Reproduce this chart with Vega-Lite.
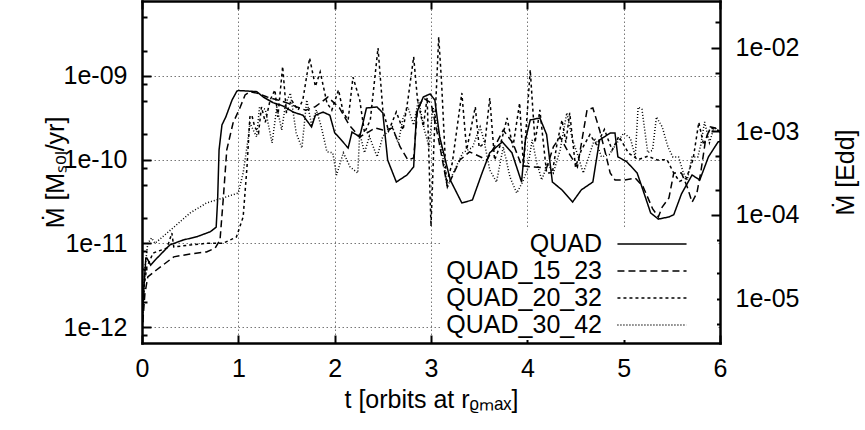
{
  "$schema": "https://vega.github.io/schema/vega-lite/v6.json",
  "width": 578,
  "height": 342,
  "autosize": {"type": "none"},
  "padding": {"left": 142, "top": 1, "right": 145, "bottom": 87},
  "background": "white",
  "config": {
    "view": {"stroke": null},
    "font": "Liberation Sans",
    "axis": {
      "labelFont": "Liberation Sans", "titleFont": "Liberation Sans",
      "labelFontSize": 25, "titleFontSize": 25, "labelColor": "black", "titleColor": "black",
      "titleFontWeight": "normal", "domainColor": "black", "domainWidth": 2.5, "domainCap": "square",
      "tickColor": "black", "tickWidth": 2, "gridColor": "#777", "gridDash": [1.5, 2.5], "gridWidth": 1,
      "labelOverlap": false, "labelFlush": false
    }
  },
  "datasets": {
    "rows": [
      {"series":"QUAD","t":0,"mdot":9e-13},{"series":"QUAD","t":0.02,"mdot":3e-12},{"series":"QUAD","t":0.04,"mdot":6.7e-12},{"series":"QUAD","t":0.05,"mdot":6.7e-12},{"series":"QUAD","t":0.09,"mdot":5.5e-12},{"series":"QUAD","t":0.135,"mdot":6.3e-12},{"series":"QUAD","t":0.29,"mdot":9.6e-12},{"series":"QUAD","t":0.43,"mdot":1.1e-11},{"series":"QUAD","t":0.57,"mdot":1.2e-11},{"series":"QUAD","t":0.71,"mdot":1.38e-11},{"series":"QUAD","t":0.77,"mdot":1.56e-11},{"series":"QUAD","t":0.785,"mdot":3.3e-11},{"series":"QUAD","t":0.8,"mdot":1.31e-10},{"series":"QUAD","t":0.83,"mdot":2.6e-10},{"series":"QUAD","t":0.87,"mdot":3.24e-10},{"series":"QUAD","t":0.935,"mdot":5.17e-10},{"series":"QUAD","t":0.985,"mdot":6.6e-10},{"series":"QUAD","t":1.0,"mdot":6.7e-10},{"series":"QUAD","t":1.1,"mdot":6.6e-10},{"series":"QUAD","t":1.19,"mdot":6.5e-10},{"series":"QUAD","t":1.26,"mdot":5.6e-10},{"series":"QUAD","t":1.36,"mdot":4.8e-10},{"series":"QUAD","t":1.46,"mdot":4.4e-10},{"series":"QUAD","t":1.57,"mdot":3.7e-10},{"series":"QUAD","t":1.67,"mdot":3.4e-10},{"series":"QUAD","t":1.76,"mdot":2.46e-10},{"series":"QUAD","t":1.8,"mdot":3.4e-10},{"series":"QUAD","t":1.88,"mdot":3.7e-10},{"series":"QUAD","t":1.95,"mdot":3.4e-10},{"series":"QUAD","t":2.0,"mdot":2.1e-10},{"series":"QUAD","t":2.04,"mdot":1.87e-10},{"series":"QUAD","t":2.14,"mdot":1.38e-10},{"series":"QUAD","t":2.18,"mdot":2.14e-10},{"series":"QUAD","t":2.26,"mdot":1.87e-10},{"series":"QUAD","t":2.33,"mdot":4.15e-10},{"series":"QUAD","t":2.44,"mdot":4.26e-10},{"series":"QUAD","t":2.5,"mdot":3.62e-10},{"series":"QUAD","t":2.55,"mdot":9.9e-11},{"series":"QUAD","t":2.64,"mdot":5.41e-11},{"series":"QUAD","t":2.75,"mdot":6.56e-11},{"series":"QUAD","t":2.82,"mdot":8.2e-11},{"series":"QUAD","t":2.85,"mdot":3.62e-10},{"series":"QUAD","t":2.92,"mdot":5.61e-10},{"series":"QUAD","t":2.99,"mdot":6.1e-10},{"series":"QUAD","t":3.04,"mdot":5.17e-10},{"series":"QUAD","t":3.09,"mdot":1.87e-10},{"series":"QUAD","t":3.2,"mdot":5.72e-11},{"series":"QUAD","t":3.32,"mdot":3.04e-11},{"series":"QUAD","t":3.43,"mdot":3.3e-11},{"series":"QUAD","t":3.53,"mdot":6.93e-11},{"series":"QUAD","t":3.61,"mdot":1.21e-10},{"series":"QUAD","t":3.74,"mdot":1.63e-10},{"series":"QUAD","t":3.84,"mdot":1.21e-10},{"series":"QUAD","t":3.94,"mdot":5.41e-11},{"series":"QUAD","t":3.98,"mdot":1.72e-10},{"series":"QUAD","t":4.03,"mdot":2.98e-10},{"series":"QUAD","t":4.13,"mdot":3.15e-10},{"series":"QUAD","t":4.2,"mdot":2.0e-10},{"series":"QUAD","t":4.26,"mdot":5.41e-11},{"series":"QUAD","t":4.36,"mdot":4.35e-11},{"series":"QUAD","t":4.47,"mdot":3.12e-11},{"series":"QUAD","t":4.56,"mdot":4.35e-11},{"series":"QUAD","t":4.68,"mdot":5.41e-11},{"series":"QUAD","t":4.75,"mdot":1.72e-10},{"series":"QUAD","t":4.86,"mdot":2.08e-10},{"series":"QUAD","t":4.91,"mdot":2.08e-10},{"series":"QUAD","t":4.94,"mdot":1.08e-10},{"series":"QUAD","t":5.03,"mdot":9.5e-11},{"series":"QUAD","t":5.14,"mdot":6.93e-11},{"series":"QUAD","t":5.2,"mdot":4.35e-11},{"series":"QUAD","t":5.28,"mdot":2.31e-11},{"series":"QUAD","t":5.36,"mdot":1.95e-11},{"series":"QUAD","t":5.47,"mdot":2.07e-11},{"series":"QUAD","t":5.52,"mdot":2.2e-11},{"series":"QUAD","t":5.6,"mdot":3.9e-11},{"series":"QUAD","t":5.71,"mdot":6.56e-11},{"series":"QUAD","t":5.79,"mdot":5.72e-11},{"series":"QUAD","t":5.88,"mdot":1.08e-10},{"series":"QUAD","t":5.98,"mdot":1.63e-10},{"series":"QUAD","t":6.0,"mdot":1.65e-10},

      {"series":"QUAD_15_23","t":0,"mdot":8.5e-13},{"series":"QUAD_15_23","t":0.03,"mdot":2.5e-12},{"series":"QUAD_15_23","t":0.06,"mdot":3.97e-12},{"series":"QUAD_15_23","t":0.15,"mdot":4.81e-12},{"series":"QUAD_15_23","t":0.33,"mdot":6.9e-12},{"series":"QUAD_15_23","t":0.5,"mdot":7.47e-12},{"series":"QUAD_15_23","t":0.67,"mdot":7.9e-12},{"series":"QUAD_15_23","t":0.76,"mdot":8.8e-12},{"series":"QUAD_15_23","t":0.81,"mdot":1.1e-11},{"series":"QUAD_15_23","t":0.845,"mdot":3.58e-11},{"series":"QUAD_15_23","t":0.88,"mdot":1.31e-10},{"series":"QUAD_15_23","t":0.945,"mdot":2.74e-10},{"series":"QUAD_15_23","t":1.02,"mdot":4.26e-10},{"series":"QUAD_15_23","t":1.07,"mdot":5.93e-10},{"series":"QUAD_15_23","t":1.12,"mdot":6.5e-10},{"series":"QUAD_15_23","t":1.2,"mdot":6.2e-10},{"series":"QUAD_15_23","t":1.3,"mdot":5.6e-10},{"series":"QUAD_15_23","t":1.4,"mdot":5.2e-10},{"series":"QUAD_15_23","t":1.5,"mdot":4.8e-10},{"series":"QUAD_15_23","t":1.6,"mdot":4.3e-10},{"series":"QUAD_15_23","t":1.7,"mdot":3.9e-10},{"series":"QUAD_15_23","t":1.8,"mdot":4.3e-10},{"series":"QUAD_15_23","t":1.93,"mdot":5.6e-10},{"series":"QUAD_15_23","t":2.05,"mdot":4.15e-10},{"series":"QUAD_15_23","t":2.15,"mdot":2.6e-10},{"series":"QUAD_15_23","t":2.26,"mdot":1.87e-10},{"series":"QUAD_15_23","t":2.35,"mdot":2.14e-10},{"series":"QUAD_15_23","t":2.42,"mdot":2.39e-10},{"series":"QUAD_15_23","t":2.5,"mdot":2.26e-10},{"series":"QUAD_15_23","t":2.6,"mdot":2.39e-10},{"series":"QUAD_15_23","t":2.68,"mdot":1.42e-10},{"series":"QUAD_15_23","t":2.76,"mdot":9.9e-11},{"series":"QUAD_15_23","t":2.82,"mdot":1.05e-10},{"series":"QUAD_15_23","t":2.86,"mdot":3.93e-10},{"series":"QUAD_15_23","t":2.92,"mdot":5.46e-10},{"series":"QUAD_15_23","t":3.0,"mdot":4.76e-10},{"series":"QUAD_15_23","t":3.08,"mdot":1.72e-10},{"series":"QUAD_15_23","t":3.17,"mdot":4.72e-11},{"series":"QUAD_15_23","t":3.3,"mdot":9.9e-11},{"series":"QUAD_15_23","t":3.4,"mdot":1.24e-10},{"series":"QUAD_15_23","t":3.5,"mdot":1.1e-10},{"series":"QUAD_15_23","t":3.58,"mdot":9.9e-11},{"series":"QUAD_15_23","t":3.68,"mdot":1.58e-10},{"series":"QUAD_15_23","t":3.75,"mdot":2.26e-10},{"series":"QUAD_15_23","t":3.85,"mdot":1.58e-10},{"series":"QUAD_15_23","t":3.94,"mdot":8.5e-11},{"series":"QUAD_15_23","t":4.03,"mdot":8.2e-11},{"series":"QUAD_15_23","t":4.2,"mdot":7.97e-11},{"series":"QUAD_15_23","t":4.27,"mdot":1.42e-10},{"series":"QUAD_15_23","t":4.34,"mdot":1.87e-10},{"series":"QUAD_15_23","t":4.43,"mdot":1.2e-10},{"series":"QUAD_15_23","t":4.52,"mdot":8.2e-11},{"series":"QUAD_15_23","t":4.62,"mdot":3.93e-10},{"series":"QUAD_15_23","t":4.68,"mdot":4.15e-10},{"series":"QUAD_15_23","t":4.75,"mdot":2.26e-10},{"series":"QUAD_15_23","t":4.81,"mdot":1.21e-10},{"series":"QUAD_15_23","t":4.86,"mdot":6.93e-11},{"series":"QUAD_15_23","t":4.91,"mdot":5.72e-11},{"series":"QUAD_15_23","t":5.01,"mdot":5.72e-11},{"series":"QUAD_15_23","t":5.12,"mdot":6.04e-11},{"series":"QUAD_15_23","t":5.2,"mdot":4.8e-11},{"series":"QUAD_15_23","t":5.3,"mdot":2.6e-11},{"series":"QUAD_15_23","t":5.36,"mdot":2.07e-11},{"series":"QUAD_15_23","t":5.4,"mdot":2.72e-11},{"series":"QUAD_15_23","t":5.47,"mdot":3.49e-11},{"series":"QUAD_15_23","t":5.52,"mdot":6.93e-11},{"series":"QUAD_15_23","t":5.6,"mdot":6.93e-11},{"series":"QUAD_15_23","t":5.66,"mdot":4.72e-11},{"series":"QUAD_15_23","t":5.71,"mdot":3.1e-11},{"series":"QUAD_15_23","t":5.76,"mdot":4.0e-11},{"series":"QUAD_15_23","t":5.8,"mdot":7e-11},{"series":"QUAD_15_23","t":5.85,"mdot":1.72e-10},{"series":"QUAD_15_23","t":5.9,"mdot":2.46e-10},{"series":"QUAD_15_23","t":5.95,"mdot":2.4e-10},{"series":"QUAD_15_23","t":6.0,"mdot":2.14e-10},

      {"series":"QUAD_20_32","t":0,"mdot":8e-13},{"series":"QUAD_20_32","t":0.02,"mdot":3e-12},{"series":"QUAD_20_32","t":0.05,"mdot":5.2e-12},{"series":"QUAD_20_32","t":0.115,"mdot":7.67e-12},{"series":"QUAD_20_32","t":0.26,"mdot":8.8e-12},{"series":"QUAD_20_32","t":0.31,"mdot":1.33e-11},{"series":"QUAD_20_32","t":0.33,"mdot":9.05e-12},{"series":"QUAD_20_32","t":0.5,"mdot":9.57e-12},{"series":"QUAD_20_32","t":0.67,"mdot":1.0e-11},{"series":"QUAD_20_32","t":0.84,"mdot":1.0e-11},{"series":"QUAD_20_32","t":0.98,"mdot":1.19e-11},{"series":"QUAD_20_32","t":1.05,"mdot":2.07e-11},{"series":"QUAD_20_32","t":1.09,"mdot":8.2e-11},{"series":"QUAD_20_32","t":1.12,"mdot":3.24e-10},{"series":"QUAD_20_32","t":1.14,"mdot":3.42e-10},{"series":"QUAD_20_32","t":1.17,"mdot":2.46e-10},{"series":"QUAD_20_32","t":1.21,"mdot":2.08e-10},{"series":"QUAD_20_32","t":1.24,"mdot":4.26e-10},{"series":"QUAD_20_32","t":1.28,"mdot":2.8e-10},{"series":"QUAD_20_32","t":1.33,"mdot":5.17e-10},{"series":"QUAD_20_32","t":1.38,"mdot":6.81e-10},{"series":"QUAD_20_32","t":1.41,"mdot":3.24e-10},{"series":"QUAD_20_32","t":1.46,"mdot":1.3e-9},{"series":"QUAD_20_32","t":1.5,"mdot":3.6e-10},{"series":"QUAD_20_32","t":1.55,"mdot":5.2e-10},{"series":"QUAD_20_32","t":1.62,"mdot":3.9e-10},{"series":"QUAD_20_32","t":1.67,"mdot":5.2e-10},{"series":"QUAD_20_32","t":1.74,"mdot":1.64e-9},{"series":"QUAD_20_32","t":1.8,"mdot":7.5e-10},{"series":"QUAD_20_32","t":1.85,"mdot":1.12e-9},{"series":"QUAD_20_32","t":1.92,"mdot":4.76e-10},{"series":"QUAD_20_32","t":1.97,"mdot":3.9e-10},{"series":"QUAD_20_32","t":2.04,"mdot":6.81e-10},{"series":"QUAD_20_32","t":2.09,"mdot":3.62e-10},{"series":"QUAD_20_32","t":2.14,"mdot":2.98e-10},{"series":"QUAD_20_32","t":2.19,"mdot":9.7e-10},{"series":"QUAD_20_32","t":2.26,"mdot":5.17e-10},{"series":"QUAD_20_32","t":2.31,"mdot":2.1e-10},{"series":"QUAD_20_32","t":2.37,"mdot":2.98e-10},{"series":"QUAD_20_32","t":2.45,"mdot":2.16e-9},{"series":"QUAD_20_32","t":2.5,"mdot":3.93e-10},{"series":"QUAD_20_32","t":2.56,"mdot":2.2e-10},{"series":"QUAD_20_32","t":2.64,"mdot":3.72e-10},{"series":"QUAD_20_32","t":2.71,"mdot":2.26e-10},{"series":"QUAD_20_32","t":2.76,"mdot":5.17e-10},{"series":"QUAD_20_32","t":2.82,"mdot":1.69e-9},{"series":"QUAD_20_32","t":2.86,"mdot":5.17e-10},{"series":"QUAD_20_32","t":2.92,"mdot":2.5e-10},{"series":"QUAD_20_32","t":2.96,"mdot":5.5e-10},{"series":"QUAD_20_32","t":3.0,"mdot":1.6e-11},{"series":"QUAD_20_32","t":3.03,"mdot":1.5e-10},{"series":"QUAD_20_32","t":3.08,"mdot":2.92e-9},{"series":"QUAD_20_32","t":3.11,"mdot":8.25e-10},{"series":"QUAD_20_32","t":3.16,"mdot":5.26e-11},{"series":"QUAD_20_32","t":3.22,"mdot":9e-11},{"series":"QUAD_20_32","t":3.32,"mdot":6.27e-10},{"series":"QUAD_20_32","t":3.37,"mdot":1.31e-10},{"series":"QUAD_20_32","t":3.46,"mdot":4.26e-10},{"series":"QUAD_20_32","t":3.5,"mdot":1.4e-10},{"series":"QUAD_20_32","t":3.56,"mdot":1.6e-10},{"series":"QUAD_20_32","t":3.61,"mdot":5.46e-10},{"series":"QUAD_20_32","t":3.66,"mdot":9.9e-11},{"series":"QUAD_20_32","t":3.72,"mdot":1.5e-10},{"series":"QUAD_20_32","t":3.79,"mdot":3.15e-10},{"series":"QUAD_20_32","t":3.85,"mdot":1.4e-10},{"series":"QUAD_20_32","t":3.92,"mdot":4.76e-10},{"series":"QUAD_20_32","t":3.96,"mdot":8.2e-11},{"series":"QUAD_20_32","t":4.03,"mdot":1.18e-9},{"series":"QUAD_20_32","t":4.08,"mdot":1.6e-10},{"series":"QUAD_20_32","t":4.13,"mdot":3.93e-10},{"series":"QUAD_20_32","t":4.2,"mdot":6.93e-11},{"series":"QUAD_20_32","t":4.26,"mdot":7e-11},{"series":"QUAD_20_32","t":4.31,"mdot":1.6e-10},{"series":"QUAD_20_32","t":4.36,"mdot":2.98e-10},{"series":"QUAD_20_32","t":4.4,"mdot":1.6e-10},{"series":"QUAD_20_32","t":4.44,"mdot":3.62e-10},{"series":"QUAD_20_32","t":4.5,"mdot":8.2e-11},{"series":"QUAD_20_32","t":4.56,"mdot":1.3e-10},{"series":"QUAD_20_32","t":4.65,"mdot":2.0e-10},{"series":"QUAD_20_32","t":4.72,"mdot":1.5e-10},{"series":"QUAD_20_32","t":4.8,"mdot":2.3e-10},{"series":"QUAD_20_32","t":4.88,"mdot":1.3e-10},{"series":"QUAD_20_32","t":4.95,"mdot":1.9e-10},{"series":"QUAD_20_32","t":5.05,"mdot":1.2e-10},{"series":"QUAD_20_32","t":5.15,"mdot":1.0e-10},{"series":"QUAD_20_32","t":5.25,"mdot":1.1e-10},{"series":"QUAD_20_32","t":5.35,"mdot":9.9e-11},{"series":"QUAD_20_32","t":5.45,"mdot":1.0e-10},{"series":"QUAD_20_32","t":5.52,"mdot":6.9e-11},{"series":"QUAD_20_32","t":5.58,"mdot":5.5e-11},{"series":"QUAD_20_32","t":5.65,"mdot":6.0e-11},{"series":"QUAD_20_32","t":5.72,"mdot":1.0e-10},{"series":"QUAD_20_32","t":5.78,"mdot":2.8e-10},{"series":"QUAD_20_32","t":5.83,"mdot":1.5e-10},{"series":"QUAD_20_32","t":5.9,"mdot":2.4e-10},{"series":"QUAD_20_32","t":6.0,"mdot":2.2e-10},

      {"series":"QUAD_30_42","t":0,"mdot":9e-13},{"series":"QUAD_30_42","t":0.03,"mdot":5e-12},{"series":"QUAD_30_42","t":0.06,"mdot":1.0e-11},{"series":"QUAD_30_42","t":0.1,"mdot":1.16e-11},{"series":"QUAD_30_42","t":0.135,"mdot":1.0e-11},{"series":"QUAD_30_42","t":0.33,"mdot":1.56e-11},{"series":"QUAD_30_42","t":0.5,"mdot":2.31e-11},{"series":"QUAD_30_42","t":0.67,"mdot":3.04e-11},{"series":"QUAD_30_42","t":0.84,"mdot":3.49e-11},{"series":"QUAD_30_42","t":1.0,"mdot":4.0e-11},{"series":"QUAD_30_42","t":1.05,"mdot":6.93e-11},{"series":"QUAD_30_42","t":1.1,"mdot":1.72e-10},{"series":"QUAD_30_42","t":1.12,"mdot":2.74e-10},{"series":"QUAD_30_42","t":1.16,"mdot":2.2e-10},{"series":"QUAD_30_42","t":1.19,"mdot":1.87e-10},{"series":"QUAD_30_42","t":1.22,"mdot":4.26e-10},{"series":"QUAD_30_42","t":1.28,"mdot":4.0e-10},{"series":"QUAD_30_42","t":1.35,"mdot":1.58e-10},{"series":"QUAD_30_42","t":1.4,"mdot":4.26e-10},{"series":"QUAD_30_42","t":1.45,"mdot":2.26e-10},{"series":"QUAD_30_42","t":1.49,"mdot":4.6e-10},{"series":"QUAD_30_42","t":1.54,"mdot":6.27e-10},{"series":"QUAD_30_42","t":1.6,"mdot":2.1e-10},{"series":"QUAD_30_42","t":1.66,"mdot":1.38e-10},{"series":"QUAD_30_42","t":1.71,"mdot":5.17e-10},{"series":"QUAD_30_42","t":1.76,"mdot":2.6e-10},{"series":"QUAD_30_42","t":1.81,"mdot":3.93e-10},{"series":"QUAD_30_42","t":1.86,"mdot":2.5e-10},{"series":"QUAD_30_42","t":1.92,"mdot":1.24e-10},{"series":"QUAD_30_42","t":1.98,"mdot":1.21e-10},{"series":"QUAD_30_42","t":2.02,"mdot":6.56e-11},{"series":"QUAD_30_42","t":2.09,"mdot":1.21e-10},{"series":"QUAD_30_42","t":2.16,"mdot":8.2e-11},{"series":"QUAD_30_42","t":2.24,"mdot":6.93e-11},{"series":"QUAD_30_42","t":2.26,"mdot":2.08e-10},{"series":"QUAD_30_42","t":2.31,"mdot":1.21e-10},{"series":"QUAD_30_42","t":2.36,"mdot":1.9e-10},{"series":"QUAD_30_42","t":2.44,"mdot":1.08e-10},{"series":"QUAD_30_42","t":2.5,"mdot":1.9e-10},{"series":"QUAD_30_42","t":2.6,"mdot":2.46e-10},{"series":"QUAD_30_42","t":2.66,"mdot":1.58e-10},{"series":"QUAD_30_42","t":2.71,"mdot":3.15e-10},{"series":"QUAD_30_42","t":2.76,"mdot":4.26e-10},{"series":"QUAD_30_42","t":2.82,"mdot":2.6e-10},{"series":"QUAD_30_42","t":2.87,"mdot":5.17e-10},{"series":"QUAD_30_42","t":2.93,"mdot":2.3e-10},{"series":"QUAD_30_42","t":2.98,"mdot":1.42e-10},{"series":"QUAD_30_42","t":3.02,"mdot":4.26e-10},{"series":"QUAD_30_42","t":3.09,"mdot":1.9e-10},{"series":"QUAD_30_42","t":3.17,"mdot":4.72e-11},{"series":"QUAD_30_42","t":3.23,"mdot":6.93e-11},{"series":"QUAD_30_42","t":3.33,"mdot":1.21e-10},{"series":"QUAD_30_42","t":3.43,"mdot":1.4e-10},{"series":"QUAD_30_42","t":3.51,"mdot":2.46e-10},{"series":"QUAD_30_42","t":3.55,"mdot":1.7e-10},{"series":"QUAD_30_42","t":3.61,"mdot":7.53e-11},{"series":"QUAD_30_42","t":3.68,"mdot":5.41e-11},{"series":"QUAD_30_42","t":3.75,"mdot":1.42e-10},{"series":"QUAD_30_42","t":3.82,"mdot":6.2e-11},{"series":"QUAD_30_42","t":3.89,"mdot":4.0e-11},{"series":"QUAD_30_42","t":3.95,"mdot":5.4e-11},{"series":"QUAD_30_42","t":4.0,"mdot":7.53e-11},{"series":"QUAD_30_42","t":4.05,"mdot":1.72e-10},{"series":"QUAD_30_42","t":4.1,"mdot":9e-11},{"series":"QUAD_30_42","t":4.15,"mdot":5.72e-11},{"series":"QUAD_30_42","t":4.21,"mdot":9e-11},{"series":"QUAD_30_42","t":4.27,"mdot":6.93e-11},{"series":"QUAD_30_42","t":4.34,"mdot":1.3e-10},{"series":"QUAD_30_42","t":4.41,"mdot":3.62e-10},{"series":"QUAD_30_42","t":4.47,"mdot":1.7e-10},{"series":"QUAD_30_42","t":4.53,"mdot":1.08e-10},{"series":"QUAD_30_42","t":4.58,"mdot":6.93e-11},{"series":"QUAD_30_42","t":4.64,"mdot":1.1e-10},{"series":"QUAD_30_42","t":4.7,"mdot":1.8e-10},{"series":"QUAD_30_42","t":4.77,"mdot":1.08e-10},{"series":"QUAD_30_42","t":4.85,"mdot":1.15e-10},{"series":"QUAD_30_42","t":4.93,"mdot":1.58e-10},{"series":"QUAD_30_42","t":5.0,"mdot":2.08e-10},{"series":"QUAD_30_42","t":5.07,"mdot":1.8e-10},{"series":"QUAD_30_42","t":5.12,"mdot":1.08e-10},{"series":"QUAD_30_42","t":5.15,"mdot":4.26e-10},{"series":"QUAD_30_42","t":5.19,"mdot":4.0e-10},{"series":"QUAD_30_42","t":5.25,"mdot":1.21e-10},{"series":"QUAD_30_42","t":5.3,"mdot":1.3e-10},{"series":"QUAD_30_42","t":5.34,"mdot":3.24e-10},{"series":"QUAD_30_42","t":5.4,"mdot":2.46e-10},{"series":"QUAD_30_42","t":5.46,"mdot":1.42e-10},{"series":"QUAD_30_42","t":5.51,"mdot":1.08e-10},{"series":"QUAD_30_42","t":5.57,"mdot":1.08e-10},{"series":"QUAD_30_42","t":5.62,"mdot":6.93e-11},{"series":"QUAD_30_42","t":5.66,"mdot":5.72e-11},{"series":"QUAD_30_42","t":5.71,"mdot":1.08e-10},{"series":"QUAD_30_42","t":5.77,"mdot":1.08e-10},{"series":"QUAD_30_42","t":5.8,"mdot":1.5e-10},{"series":"QUAD_30_42","t":5.84,"mdot":2.82e-10},{"series":"QUAD_30_42","t":5.89,"mdot":1.6e-10},{"series":"QUAD_30_42","t":5.94,"mdot":2.46e-10},{"series":"QUAD_30_42","t":6.0,"mdot":2.1e-10}
    ]
  },
  "data": {"name": "rows"},
  "layer": [
    {
      "mark": {"type": "line", "color": "black", "strokeWidth": 1.5, "clip": true},
      "encoding": {
        "x": {"field": "t", "type": "quantitative", "scale": {"domain": [0, 6], "nice": false},
              "axis": {"orient": "bottom", "values": [0, 1, 2, 3, 4, 5, 6], "format": "d", "tickSize": -8, "labelPadding": 21, "grid": true, "title": "t [orbits at rᵨₘₐₓ]", "titlePadding": 6}},
        "y": {"field": "mdot", "type": "quantitative", "scale": {"type": "log", "domain": [6.45e-13, 7.87e-9], "nice": false},
              "axis": {"orient": "left", "values": [1e-12, 1e-11, 1e-10, 1e-9], "labelExpr": "'1e-' + format(-round(log(datum.value)/LN10), '02d')", "tickSize": -9, "labelPadding": 24, "grid": true, "title": "Ṁ [Mₛₒₗ/yr]", "titlePadding": -5}},
        "strokeDash": {"field": "series", "type": "nominal",
              "scale": {"domain": ["QUAD", "QUAD_15_23", "QUAD_20_32", "QUAD_30_42"], "range": [[1, 0], [7, 4], [3, 3], [1, 2]]},
              "legend": {"orient": "bottom-right", "offset": 3.5, "padding": 2, "fillColor": "white",
                         "title": " ", "titleOrient": "right", "titleFontSize": 1, "titlePadding": 25,
                         "labelFont": "Liberation Sans", "labelFontSize": 25, "labelColor": "black", "labelAlign": "right", "labelOffset": -64, "labelLimit": 400,
                         "symbolType": "M-2.7,0H2.7", "symbolSize": 655, "symbolStrokeWidth": 1.5, "symbolStrokeColor": "black", "symbolFillColor": "transparent", "symbolOffset": 194,
                         "rowPadding": 0}}
      }
    },
    {
      "mark": {"type": "line", "opacity": 0, "clip": true},
      "encoding": {
        "x": {"field": "t", "type": "quantitative", "scale": {"domain": [0, 6], "nice": false},
              "axis": {"orient": "top", "values": [0, 1, 2, 3, 4, 5, 6], "labels": false, "tickSize": -8, "grid": false, "title": null}},
        "y": {"field": "mdot", "type": "quantitative", "scale": {"type": "log", "domain": [6.45e-13, 7.87e-9], "nice": false},
              "axis": {"orient": "left", "values": [8e-13, 2e-12, 5e-12, 8e-12, 2e-11, 5e-11, 8e-11, 2e-10, 5e-10, 8e-10, 2e-9, 5e-9], "labels": false, "tickSize": -5, "grid": false, "domain": false, "title": null}},
        "detail": {"field": "series", "type": "nominal"}
      }
    },
    {
      "mark": {"type": "line", "opacity": 0, "clip": true},
      "encoding": {
        "x": {"field": "t", "type": "quantitative", "scale": {"domain": [0, 6], "nice": false}, "axis": null},
        "y": {"field": "mdot", "type": "quantitative", "scale": {"type": "log", "domain": [2.95e-6, 3.6e-2], "nice": false},
              "axis": {"orient": "right", "values": [1e-5, 1e-4, 1e-3, 1e-2], "labelExpr": "'1e-' + format(-round(log(datum.value)/LN10), '02d')", "tickSize": -9, "labelPadding": 24, "grid": false, "title": "Ṁ [Edd]", "titleAngle": 270, "titleBaseline": "top", "titlePadding": 35}},
        "detail": {"field": "series", "type": "nominal"}
      }
    },
    {
      "mark": {"type": "line", "opacity": 0, "clip": true},
      "encoding": {
        "x": {"field": "t", "type": "quantitative", "scale": {"domain": [0, 6], "nice": false}, "axis": null},
        "y": {"field": "mdot", "type": "quantitative", "scale": {"type": "log", "domain": [2.95e-6, 3.6e-2], "nice": false},
              "axis": {"orient": "right", "values": [5e-6, 2e-5, 5e-5, 2e-4, 5e-4, 2e-3, 5e-3, 2e-2], "labels": false, "tickSize": -5, "grid": false, "domain": false, "title": null}},
        "detail": {"field": "series", "type": "nominal"}
      }
    }
  ],
  "resolve": {"scale": {"y": "independent"}, "axis": {"x": "independent", "y": "independent"}}
}
